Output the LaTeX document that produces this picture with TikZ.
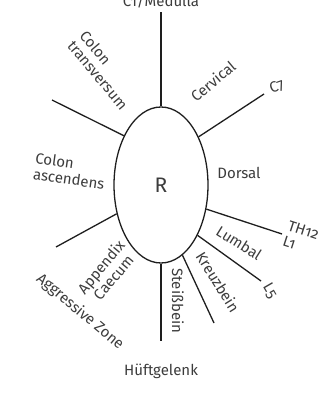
\documentclass[tikz,border=0pt]{standalone}
\usepackage{fontspec}
\setmainfont[Numbers=OldStyle]{Fira Sans}
\usetikzlibrary{shapes.geometric}
\definecolor{txt}{HTML}{3C3C3C}
\definecolor{ln}{HTML}{1E1E1E}
\tikzset{
  lab/.style={text=txt, font=\fontsize{15}{16}\selectfont, inner sep=0pt},
  spoke/.style={draw=ln, line width=1.3pt},
  oval/.style={ellipse, draw=ln, line width=1.3pt, minimum width=94pt, minimum height=156pt, inner sep=0pt}
}
\begin{document}
\begin{tikzpicture}[x=1pt,y=-1pt]
\useasboundingbox (0,0) rectangle (335,395);
\node[oval] (R) at (161,185) {};
\node[lab, font=\fontsize{21}{22}\selectfont] (Rl) at (161,185) {R};
% outer ends
\coordinate (eTop) at (161,12);
\coordinate (eC7) at (264,94);
\coordinate (eUL) at (52,100);
\coordinate (eLL) at (56,247);
\coordinate (eTH) at (282,234);
\coordinate (eL5) at (261,281);
\coordinate (eKr) at (214,323);
\coordinate (eBot) at (161,341);
\draw[spoke] (R.90) -- (eTop);
\draw[spoke] (R.52) -- (eC7);
\draw[spoke] (R.127) -- (eUL);
\draw[spoke] (R.213) -- (eLL);
\draw[spoke] (R.-28.5) -- (eTH);
\draw[spoke] (R.-54) -- (eL5);
\draw[spoke] (R.-73) -- (eKr);
\draw[spoke] (R.-90) -- (eBot);
% labels
\node[lab, anchor=base] (c1) at (161,6.5) {C1/Medulla};
\node[lab, align=left, rotate=-50] (ct) at (104,70) {Colon\\transversum};
\node[lab, rotate=40] (cerv) at (213,81) {Cervical};
\node[lab, rotate=20] (c7) at (277,87) {C7};
\node[lab, align=left, rotate=-8] (ca) at (70,171) {Colon\\ascendens};
\node[lab] (dors) at (239,173) {Dorsal};
\node[lab, align=left, rotate=-18] (th) at (301,238) {TH12\\L1};
\node[lab, rotate=-32] (lumb) at (239,243) {Lumbal};
\node[lab, rotate=-60] (l5) at (270,291) {L5};
\node[lab, rotate=-58] (kreuz) at (218,282) {Kreuzbein};
\node[lab, rotate=-90] (steiss) at (178,301) {Steißbein};
\node[lab, align=center, rotate=50] (app) at (107,272) {Appendix\\Caecum};
\node[lab, rotate=-40] (aggr) at (80,312) {Aggressive Zone};
\node[lab] (hueft) at (161,371) {Hüftgelenk};
\end{tikzpicture}
\end{document}
